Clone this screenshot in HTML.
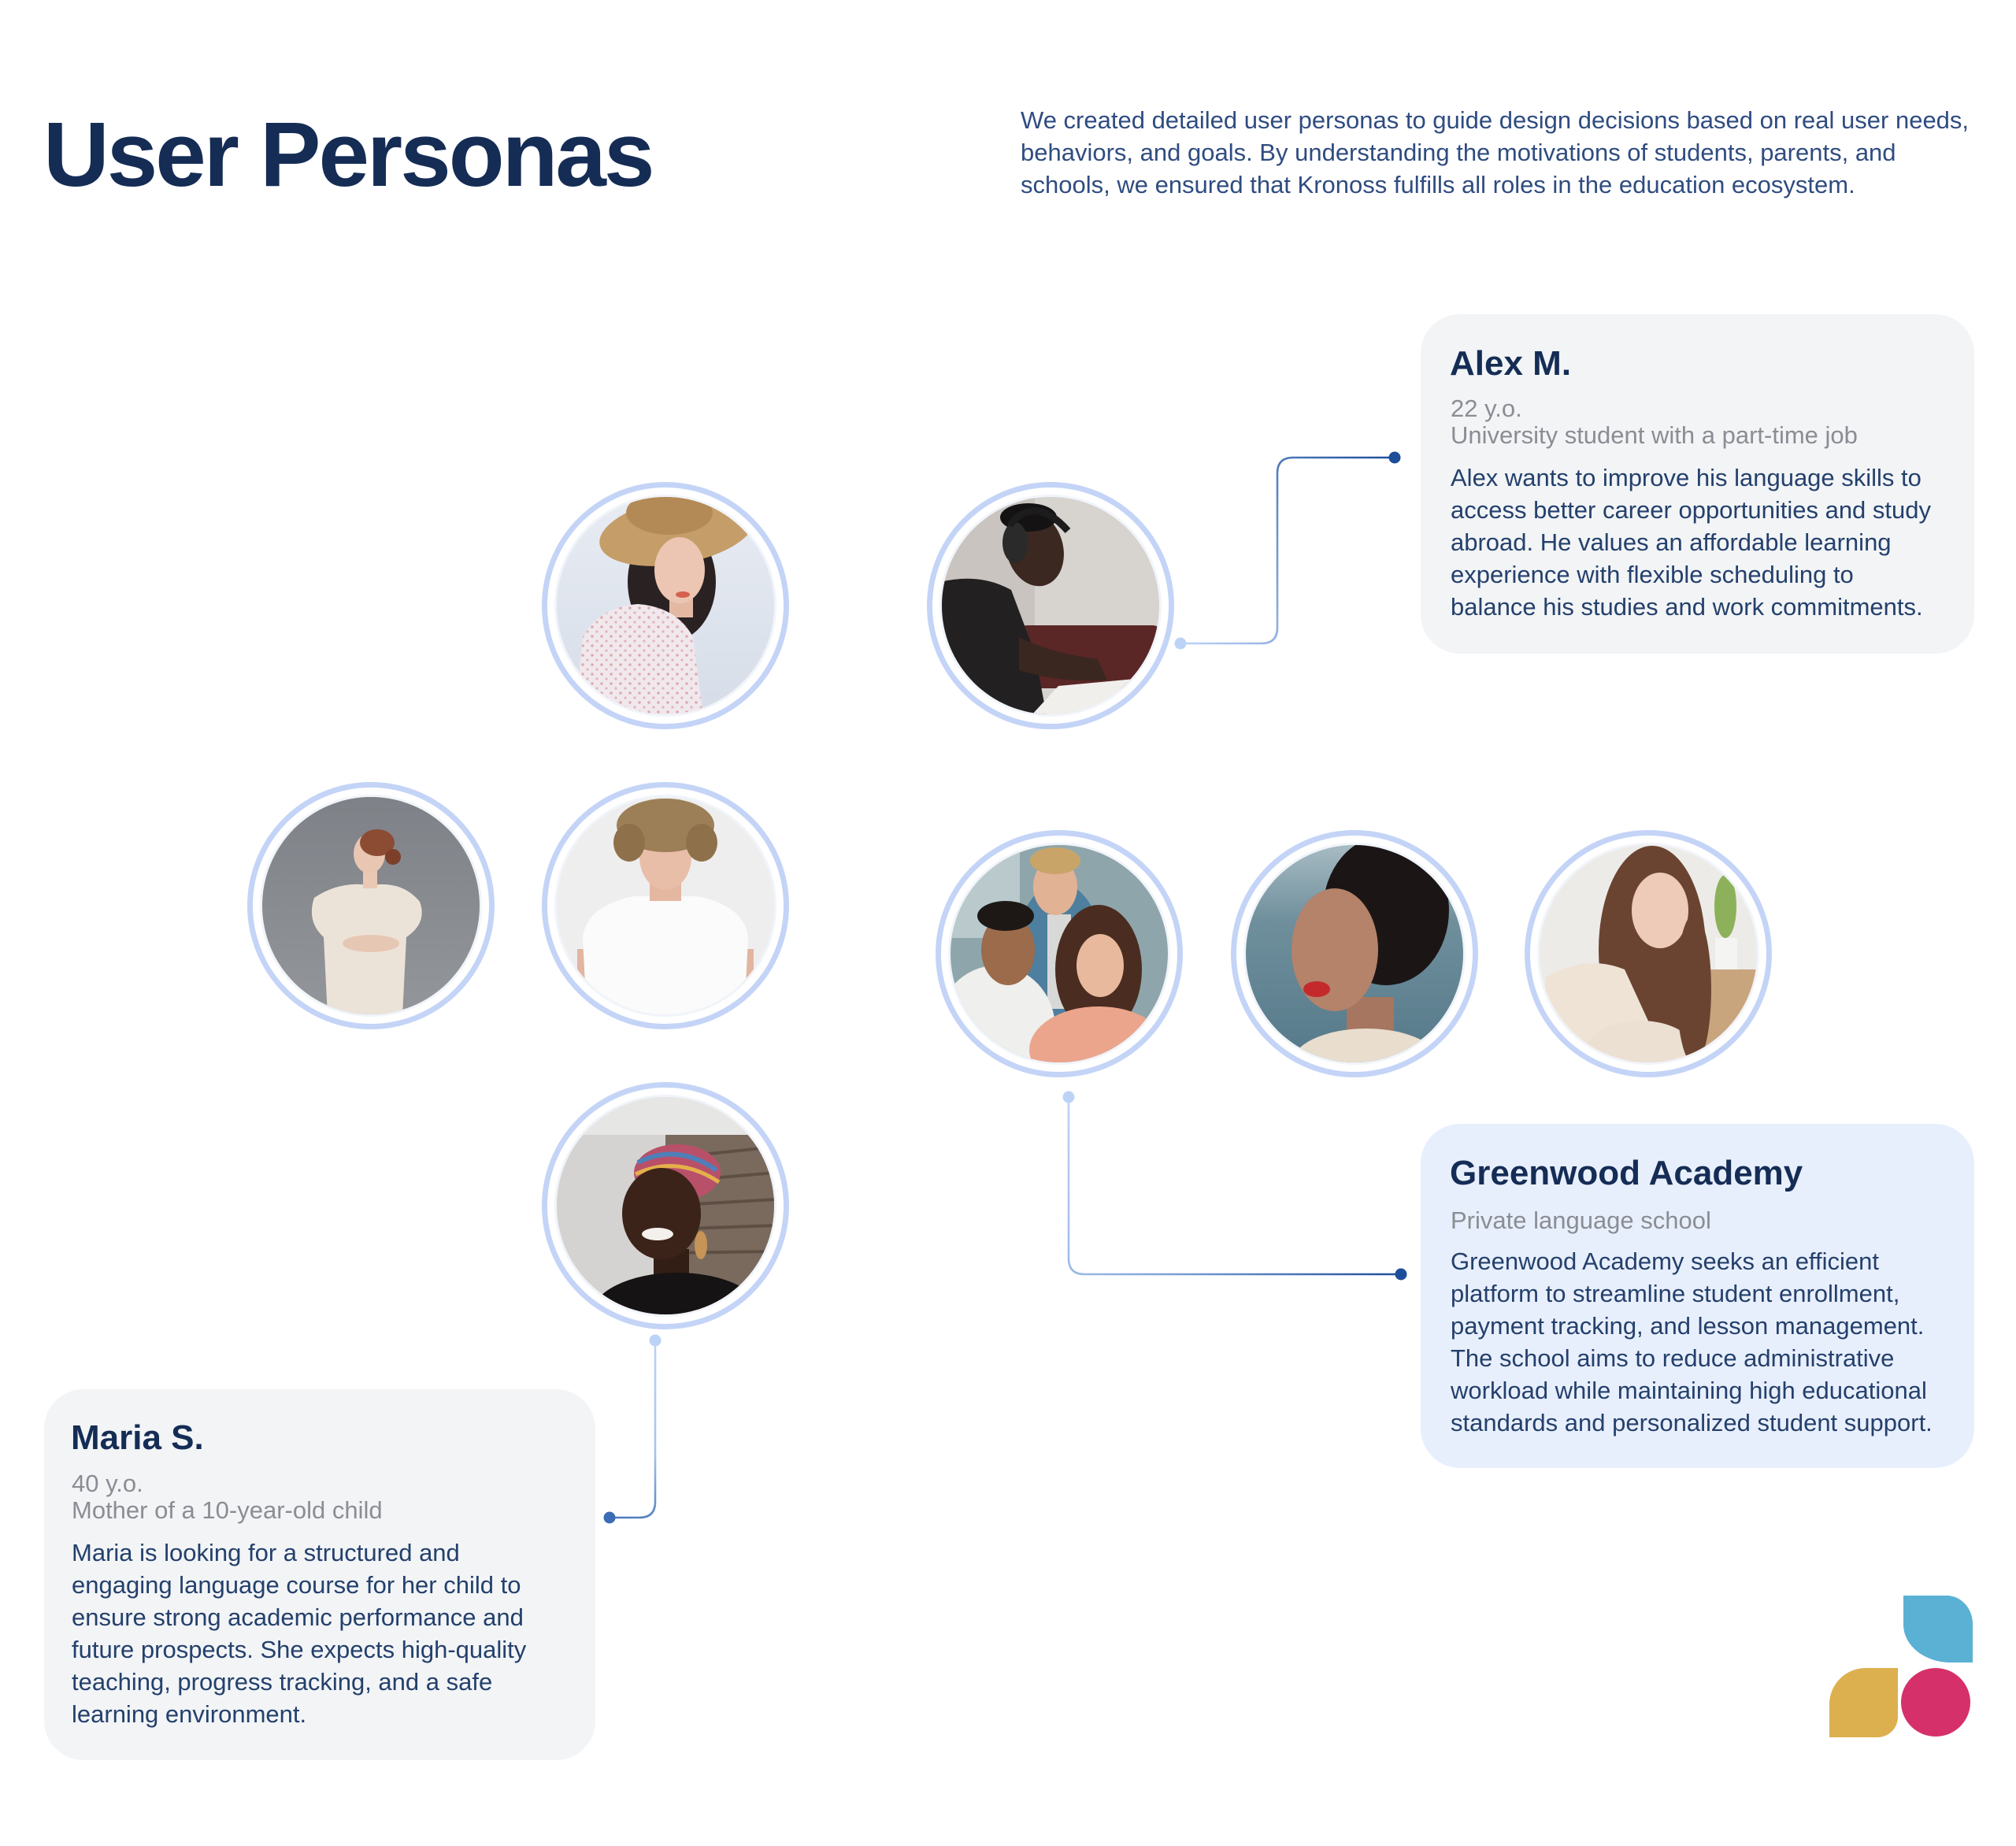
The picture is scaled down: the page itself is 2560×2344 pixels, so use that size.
<!DOCTYPE html>
<html>
<head>
<meta charset="utf-8">
<style>
  html,body{margin:0;padding:0;background:#ffffff;}
  body{width:2560px;height:2344px;position:relative;overflow:hidden;font-family:"Liberation Sans",Arial,sans-serif;}
  .abs{position:absolute;white-space:nowrap;}
  .title{left:55px;top:138px;font-size:116px;line-height:116px;font-weight:bold;color:#152d55;letter-spacing:-3px;}
  .desc{left:1296px;top:132px;font-size:31px;line-height:41px;color:#2f4c80;}
  .card{position:absolute;border-radius:50px;}
  .gray{background:#f2f4f6;}
  .blue{background:#e8effc;}
  .name{font-size:44px;line-height:50px;font-weight:bold;color:#152d55;}
  .sub{font-size:31px;line-height:34px;color:#8a8d93;}
  .sub1{font-size:31px;line-height:41px;color:#8a8d93;}
  .body{font-size:31px;line-height:41px;color:#24406c;}
  svg{position:absolute;left:0;top:0;}
</style>
</head>
<body>

<div class="abs title">User Personas</div>
<div class="abs desc">We created detailed user personas to guide design decisions based on real user needs,<br>behaviors, and goals. By understanding the motivations of students, parents, and<br>schools, we ensured that Kronoss fulfills all roles in the education ecosystem.</div>

<!-- Cards -->
<div class="card gray" style="left:1804px;top:399px;width:703px;height:431px;"></div>
<div class="card blue" style="left:1804px;top:1427px;width:703px;height:437px;"></div>
<div class="card gray" style="left:56px;top:1764px;width:700px;height:471px;"></div>

<!-- Alex -->
<div class="abs name" style="left:1841px;top:437px;">Alex M.</div>
<div class="abs sub" style="left:1842px;top:502px;">22 y.o.<br>University student with a part-time job</div>
<div class="abs body" style="left:1842px;top:586px;">Alex wants to improve his language skills to<br>access better career opportunities and study<br>abroad. He values an affordable learning<br>experience with flexible scheduling to<br>balance his studies and work commitments.</div>

<!-- Greenwood -->
<div class="abs name" style="left:1841px;top:1465px;">Greenwood Academy</div>
<div class="abs sub1" style="left:1842px;top:1529px;">Private language school</div>
<div class="abs body" style="left:1842px;top:1581px;">Greenwood Academy seeks an efficient<br>platform to streamline student enrollment,<br>payment tracking, and lesson management.<br>The school aims to reduce administrative<br>workload while maintaining high educational<br>standards and personalized student support.</div>

<!-- Maria -->
<div class="abs name" style="left:90px;top:1801px;">Maria S.</div>
<div class="abs sub" style="left:91px;top:1867px;">40 y.o.<br>Mother of a 10-year-old child</div>
<div class="abs body" style="left:91px;top:1951px;">Maria is looking for a structured and<br>engaging language course for her child to<br>ensure strong academic performance and<br>future prospects. She expects high-quality<br>teaching, progress tracking, and a safe<br>learning environment.</div>

<svg width="2560" height="2344" viewBox="0 0 2560 2344" xmlns="http://www.w3.org/2000/svg">
  <defs>
    <clipPath id="cp"><circle cx="0" cy="0" r="138"/></clipPath>
    <linearGradient id="gAlex" gradientUnits="userSpaceOnUse" x1="1499" y1="817" x2="1771" y2="581">
      <stop offset="0" stop-color="#bcd3f7"/><stop offset="0.5" stop-color="#6f95cf"/><stop offset="1" stop-color="#1d4e9a"/>
    </linearGradient>
    <linearGradient id="gGreen" gradientUnits="userSpaceOnUse" x1="1357" y1="1393" x2="1779" y2="1618">
      <stop offset="0" stop-color="#bcd3f7"/><stop offset="0.45" stop-color="#7fa1d6"/><stop offset="1" stop-color="#1d4e9a"/>
    </linearGradient>
    <linearGradient id="gMaria" gradientUnits="userSpaceOnUse" x1="832" y1="1702" x2="774" y2="1927">
      <stop offset="0" stop-color="#bcd3f7"/><stop offset="0.6" stop-color="#a6c2ef"/><stop offset="1" stop-color="#4a78bd"/>
    </linearGradient>
    <linearGradient id="gHatBg" x1="0" y1="0" x2="0" y2="1">
      <stop offset="0" stop-color="#e8ecf3"/><stop offset="1" stop-color="#d6dde8"/>
    </linearGradient>
    <linearGradient id="gGrayBg" x1="0" y1="0" x2="0" y2="1">
      <stop offset="0" stop-color="#7e8187"/><stop offset="1" stop-color="#93969a"/>
    </linearGradient>
    <linearGradient id="gWater" x1="0" y1="0" x2="0" y2="1">
      <stop offset="0" stop-color="#a8bcc4"/><stop offset="0.35" stop-color="#6f8f9c"/><stop offset="1" stop-color="#55798a"/>
    </linearGradient>
    <pattern id="pDots" width="12" height="12" patternUnits="userSpaceOnUse">
      <circle cx="3" cy="3" r="1.8" fill="#d7959c"/><circle cx="9" cy="9" r="1.6" fill="#dba2a8"/>
    </pattern>
  </defs>

  <!-- Connectors -->
  <path d="M1499 817 H1602 Q1622 817 1622 797 V601 Q1622 581 1642 581 H1771" fill="none" stroke="url(#gAlex)" stroke-width="2.6"/>
  <circle cx="1499" cy="817" r="7.5" fill="#bcd3f7"/>
  <circle cx="1771" cy="581" r="7.5" fill="#1d4e9a"/>

  <path d="M1357 1393 V1598 Q1357 1618 1377 1618 H1779" fill="none" stroke="url(#gGreen)" stroke-width="2.6"/>
  <circle cx="1357" cy="1393" r="7.5" fill="#bcd3f7"/>
  <circle cx="1779" cy="1618" r="7.5" fill="#1d4e9a"/>

  <path d="M832 1702 V1907 Q832 1927 812 1927 H774" fill="none" stroke="url(#gMaria)" stroke-width="2.6"/>
  <circle cx="832" cy="1702" r="7.5" fill="#bcd3f7"/>
  <circle cx="774" cy="1927" r="7.5" fill="#3c6cb4"/>

  <!-- Rings -->
  <g fill="#ffffff" stroke="#c4d4f7" stroke-width="7">
    <circle cx="845" cy="769" r="153.5"/>
    <circle cx="1334" cy="769" r="153.5"/>
    <circle cx="471" cy="1150" r="153.5"/>
    <circle cx="845" cy="1150" r="153.5"/>
    <circle cx="1345" cy="1211" r="153.5"/>
    <circle cx="1720" cy="1211" r="153.5"/>
    <circle cx="2093" cy="1211" r="153.5"/>
    <circle cx="845" cy="1531" r="153.5"/>
  </g>
  <g fill="#f1f4f9">
    <circle cx="845" cy="769" r="141"/>
    <circle cx="1334" cy="769" r="141"/>
    <circle cx="471" cy="1150" r="141"/>
    <circle cx="845" cy="1150" r="141"/>
    <circle cx="1345" cy="1211" r="141"/>
    <circle cx="1720" cy="1211" r="141"/>
    <circle cx="2093" cy="1211" r="141"/>
    <circle cx="845" cy="1531" r="141"/>
  </g>

  <!-- Photo 1: hat woman -->
  <g transform="translate(845,769)" clip-path="url(#cp)">
    <rect x="-140" y="-140" width="280" height="280" fill="url(#gHatBg)"/>
    <ellipse cx="8" cy="-30" rx="56" ry="75" fill="#2a2222"/>
    <ellipse cx="15" cy="-95" rx="100" ry="42" fill="#c59d68" transform="rotate(-10 15 -95)"/>
    <ellipse cx="5" cy="-118" rx="55" ry="28" fill="#b38a56"/>
    <rect x="5" y="-15" width="30" height="30" fill="#e3b9a4"/>
    <ellipse cx="18" cy="-45" rx="32" ry="42" fill="#ecc6b2"/>
    <ellipse cx="22" cy="-14" rx="9" ry="4" fill="#d4624e"/>
    <path d="M-115 140 L-105 40 Q-85 2 -35 -2 Q15 2 35 40 L48 140 Z" fill="#f0e8ec"/>
    <path d="M-115 140 L-105 40 Q-85 2 -35 -2 Q15 2 35 40 L48 140 Z" fill="url(#pDots)" opacity="0.75"/>
  </g>

  <!-- Photo 2: Alex -->
  <g transform="translate(1334,769)" clip-path="url(#cp)">
    <rect x="-140" y="-140" width="280" height="280" fill="#d7d3cf"/>
    <rect x="-140" y="-140" width="120" height="280" fill="#c9c4c0"/>
    <rect x="-40" y="25" width="180" height="80" rx="10" fill="#5b2626"/>
    <path d="M-140 -30 Q-90 -42 -50 -20 L-20 60 L-5 140 L-140 140 Z" fill="#222021"/>
    <ellipse cx="-20" cy="-72" rx="36" ry="48" fill="#3b2821" transform="rotate(-15 -20 -72)"/>
    <ellipse cx="-28" cy="-112" rx="36" ry="18" fill="#141212"/>
    <ellipse cx="-45" cy="-80" rx="16" ry="26" fill="#2a2a2a"/>
    <path d="M-52 -102 Q-20 -142 22 -95" fill="none" stroke="#1c1c1c" stroke-width="9"/>
    <path d="M-40 40 Q0 60 60 68 L72 95 Q10 98 -40 82 Z" fill="#3a2720"/>
    <path d="M-25 140 L10 102 L140 90 L140 140 Z" fill="#f1efec"/>
  </g>

  <!-- Photo 3: red-hair woman -->
  <g transform="translate(471,1150)" clip-path="url(#cp)">
    <rect x="-140" y="-140" width="280" height="280" fill="url(#gGrayBg)"/>
    <path d="M-55 140 L-60 40 Q-82 20 -72 -10 Q-40 -32 0 -26 Q40 -32 62 -5 Q72 22 45 40 L40 140 Z" fill="#ece3d8"/>
    <ellipse cx="0" cy="48" rx="36" ry="11" fill="#e6c7b3"/>
    <rect x="-10" y="-48" width="18" height="26" fill="#e9c8b4"/>
    <ellipse cx="-2" cy="-66" rx="20" ry="25" fill="#e8c6b2"/>
    <ellipse cx="8" cy="-80" rx="22" ry="17" fill="#8c4c33"/>
    <ellipse cx="28" cy="-62" rx="10" ry="10" fill="#7c3f29"/>
  </g>

  <!-- Photo 4: curly boy -->
  <g transform="translate(845,1150)" clip-path="url(#cp)">
    <rect x="-140" y="-140" width="280" height="280" fill="#eeeeee"/>
    <rect x="-112" y="55" width="18" height="90" fill="#e2b5a0"/>
    <rect x="94" y="55" width="18" height="90" fill="#e2b5a0"/>
    <path d="M-100 140 L-105 40 Q-100 0 -40 -12 L40 -12 Q100 0 105 40 L100 140 Z" fill="#fbfbfb"/>
    <rect x="-20" y="-42" width="40" height="36" fill="#e4b7a1"/>
    <ellipse cx="0" cy="-62" rx="33" ry="42" fill="#e9bea9"/>
    <ellipse cx="0" cy="-102" rx="62" ry="34" fill="#9c7f57"/>
    <ellipse cx="-46" cy="-80" rx="20" ry="24" fill="#8e714b"/>
    <ellipse cx="46" cy="-80" rx="20" ry="24" fill="#8e714b"/>
  </g>

  <!-- Photo 5: group -->
  <g transform="translate(1345,1211)" clip-path="url(#cp)">
    <rect x="-140" y="-140" width="280" height="280" fill="#8ea6ab"/>
    <rect x="-140" y="-140" width="90" height="120" fill="#b9c9cc"/>
    <ellipse cx="0" cy="20" rx="60" ry="110" fill="#4e7f9e"/>
    <rect x="-15" y="-50" width="30" height="120" fill="#d8d8d6"/>
    <ellipse cx="-5" cy="-85" rx="28" ry="36" fill="#e2b294"/>
    <ellipse cx="-5" cy="-118" rx="32" ry="17" fill="#c9a468"/>
    <ellipse cx="-80" cy="95" rx="75" ry="80" fill="#efefed"/>
    <ellipse cx="-65" cy="-5" rx="34" ry="45" fill="#9c6b4b"/>
    <ellipse cx="-68" cy="-48" rx="36" ry="19" fill="#1d1816"/>
    <ellipse cx="50" cy="20" rx="55" ry="82" fill="#4a2d20"/>
    <ellipse cx="52" cy="15" rx="30" ry="40" fill="#e8b99d"/>
    <ellipse cx="50" cy="122" rx="88" ry="55" fill="#eca58d"/>
  </g>

  <!-- Photo 6: short-hair woman -->
  <g transform="translate(1720,1211)" clip-path="url(#cp)">
    <rect x="-140" y="-140" width="280" height="280" fill="url(#gWater)"/>
    <ellipse cx="40" cy="-55" rx="80" ry="95" fill="#1b1615"/>
    <rect x="-10" y="55" width="60" height="55" fill="#a67660"/>
    <ellipse cx="-25" cy="-5" rx="55" ry="78" fill="#b5826a"/>
    <ellipse cx="-48" cy="45" rx="17" ry="10" fill="#c42a2c"/>
    <ellipse cx="15" cy="140" rx="95" ry="45" fill="#e9ddce"/>
  </g>

  <!-- Photo 7: long-hair woman -->
  <g transform="translate(2093,1211)" clip-path="url(#cp)">
    <rect x="-140" y="-140" width="280" height="280" fill="#ecebe7"/>
    <rect x="60" y="20" width="80" height="120" fill="#c9a57e"/>
    <ellipse cx="98" cy="-60" rx="14" ry="40" fill="#8db15a"/>
    <rect x="85" y="-20" width="28" height="40" fill="#f4f4f2"/>
    <ellipse cx="5" cy="-5" rx="68" ry="132" fill="#6b4431"/>
    <ellipse cx="15" cy="-55" rx="36" ry="48" fill="#eecab8"/>
    <path d="M-140 140 L-130 30 Q-80 0 -30 20 L25 140 Z" fill="#efe3d5"/>
    <ellipse cx="-10" cy="125" rx="70" ry="40" fill="#ece0d2"/>
    <ellipse cx="58" cy="45" rx="22" ry="95" fill="#6b4431"/>
  </g>

  <!-- Photo 8: smiling woman -->
  <g transform="translate(845,1531)" clip-path="url(#cp)">
    <rect x="-140" y="-140" width="280" height="280" fill="#d5d3d1"/>
    <rect x="0" y="-90" width="140" height="230" fill="#7a6a5e"/>
    <g stroke="#5e4f45" stroke-width="4">
      <line x1="0" y1="-60" x2="140" y2="-75"/>
      <line x1="0" y1="-30" x2="140" y2="-42"/>
      <line x1="0" y1="0" x2="140" y2="-8"/>
      <line x1="0" y1="30" x2="140" y2="25"/>
      <line x1="0" y1="60" x2="140" y2="58"/>
    </g>
    <rect x="-140" y="-140" width="280" height="50" fill="#e6e6e4"/>
    <ellipse cx="15" cy="-42" rx="55" ry="36" fill="#b9506a"/>
    <path d="M-35 -55 Q15 -80 65 -45" fill="none" stroke="#4f7fb8" stroke-width="6"/>
    <path d="M-38 -40 Q15 -65 68 -30" fill="none" stroke="#e3b04a" stroke-width="5"/>
    <rect x="-15" y="55" width="45" height="40" fill="#331e16"/>
    <ellipse cx="-5" cy="10" rx="50" ry="58" fill="#3b2319"/>
    <ellipse cx="-10" cy="36" rx="20" ry="8" fill="#f4f0ec"/>
    <ellipse cx="45" cy="50" rx="8" ry="18" fill="#c79457"/>
    <ellipse cx="15" cy="140" rx="110" ry="55" fill="#151313"/>
  </g>
</svg>

<!-- Logo -->
<div style="position:absolute;left:2417px;top:2026px;width:88px;height:85px;background:#5bb1d4;border-radius:0 33px 0 60px / 0 36px 0 48px;"></div>
<div style="position:absolute;left:2323px;top:2118px;width:87px;height:88px;background:#ddb04f;border-radius:46px 0 26px 0;"></div>
<div style="position:absolute;left:2414px;top:2118px;width:88px;height:87px;background:#d6306b;border-radius:50%;"></div>

</body>
</html>
